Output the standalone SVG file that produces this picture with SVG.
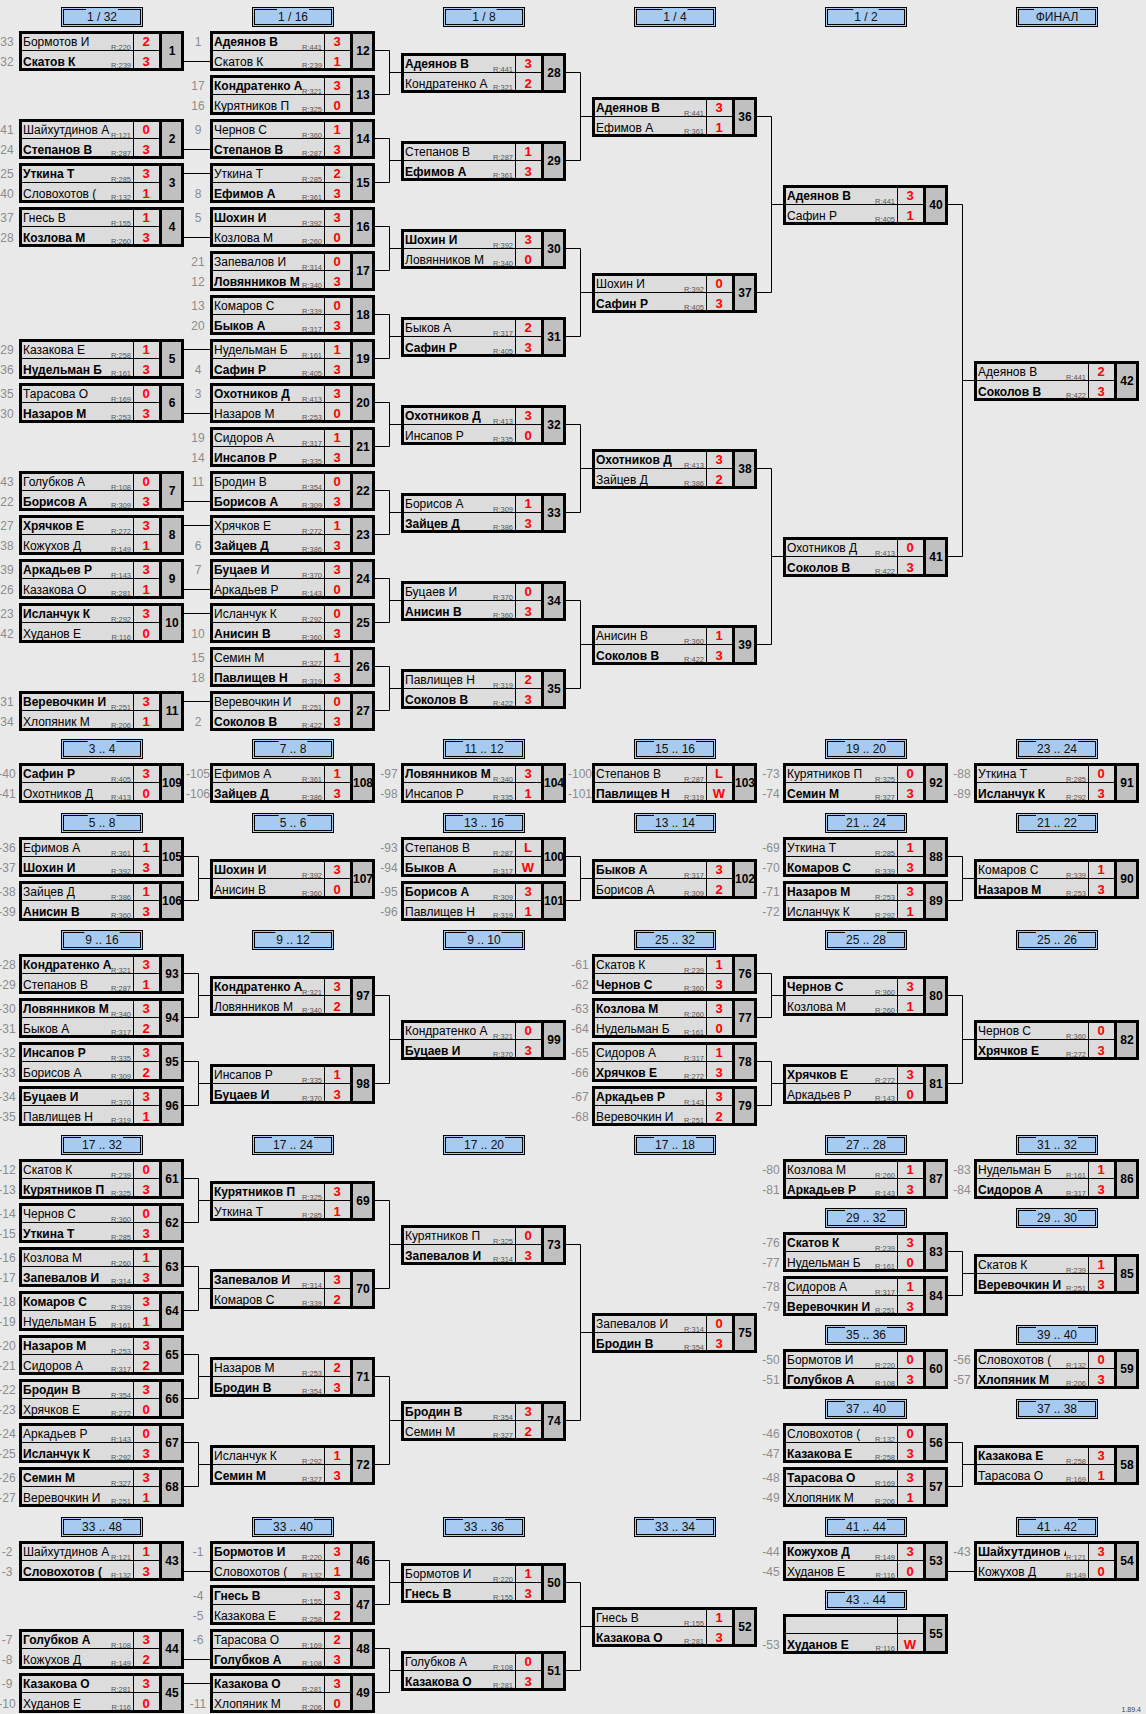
<svg xmlns="http://www.w3.org/2000/svg" xmlns:xlink="http://www.w3.org/1999/xlink" width="1146" height="1714" viewBox="0 0 1146 1714">
<style>
text{font-family:'Liberation Sans',Arial,sans-serif}
.n{font-size:12px;fill:#000}
.b{font-weight:bold}
.r{font-size:7.5px;fill:#555;text-anchor:end}
.s{font-size:13px;font-weight:bold;fill:#f00;text-anchor:middle}
.m{font-size:12px;font-weight:bold;fill:#000;text-anchor:middle}
.sd{font-size:12px;fill:#8c8c8c;text-anchor:middle}
.ht{font-size:12px;fill:#111;text-anchor:middle}
.ho{fill:#a6caf0;stroke:#000;stroke-width:1}
.hi{fill:none;stroke:#000;stroke-width:1}
.hg{fill:#a6caf0}
.c{fill:none;stroke:#000;stroke-width:1}
.v{font-size:7px;fill:#444;text-anchor:end}
</style>
<defs>
<g id="bx">
<rect x="0" y="0" width="141" height="40" fill="#dcdcdc"/>
<rect x="141" y="0" width="24" height="40" fill="#c0c0c0"/>
<path d="M0 19.5H141M114.5 0V40" stroke="#000" stroke-width="1" fill="none"/>
<rect x="1.5" y="1.5" width="162" height="37" fill="none" stroke="#000" stroke-width="3"/>
<path d="M141.5 0V40" stroke="#000" stroke-width="3"/>
</g>
<g id="hd">
<rect class="ho" x="42.5" y="-23.5" width="81" height="19"/>
<rect class="hi" x="44.5" y="-21.5" width="77" height="15"/>
</g>
</defs>
<rect x="0" y="0" width="1146" height="1714" fill="#e9e9e9"/>

<g id="headers">
<g transform="translate(19 31)"><use href="#hd"/><rect class="hg" x="67" y="-22.2" width="32" height="1.4"/><text class="ht" x="83" y="-10.5">1 / 32</text></g>
<g transform="translate(210 31)"><use href="#hd"/><rect class="hg" x="67" y="-22.2" width="32" height="1.4"/><text class="ht" x="83" y="-10.5">1 / 16</text></g>
<g transform="translate(401 31)"><use href="#hd"/><rect class="hg" x="70.3" y="-22.2" width="25.3" height="1.4"/><text class="ht" x="83" y="-10.5">1 / 8</text></g>
<g transform="translate(592 31)"><use href="#hd"/><rect class="hg" x="70.3" y="-22.2" width="25.3" height="1.4"/><text class="ht" x="83" y="-10.5">1 / 4</text></g>
<g transform="translate(783 31)"><use href="#hd"/><rect class="hg" x="70.3" y="-22.2" width="25.3" height="1.4"/><text class="ht" x="83" y="-10.5">1 / 2</text></g>
<g transform="translate(974 31)"><use href="#hd"/><rect class="hg" x="60" y="-22.2" width="46" height="1.4"/><text class="ht" x="83" y="-10.5">ФИНАЛ</text></g>

<g transform="translate(19 763)"><use href="#hd"/><rect class="hg" x="68.7" y="-22.2" width="28.7" height="1.4"/><text class="ht" x="83" y="-10.5">3 .. 4</text></g>
<g transform="translate(210 763)"><use href="#hd"/><rect class="hg" x="68.7" y="-22.2" width="28.7" height="1.4"/><text class="ht" x="83" y="-10.5">7 .. 8</text></g>
<g transform="translate(401 763)"><use href="#hd"/><rect class="hg" x="62" y="-22.2" width="42" height="1.4"/><text class="ht" x="83" y="-10.5">11 .. 12</text></g>
<g transform="translate(592 763)"><use href="#hd"/><rect class="hg" x="62" y="-22.2" width="42" height="1.4"/><text class="ht" x="83" y="-10.5">15 .. 16</text></g>
<g transform="translate(783 763)"><use href="#hd"/><rect class="hg" x="62" y="-22.2" width="42" height="1.4"/><text class="ht" x="83" y="-10.5">19 .. 20</text></g>
<g transform="translate(974 763)"><use href="#hd"/><rect class="hg" x="62" y="-22.2" width="42" height="1.4"/><text class="ht" x="83" y="-10.5">23 .. 24</text></g>

<g transform="translate(19 837)"><use href="#hd"/><rect class="hg" x="68.7" y="-22.2" width="28.7" height="1.4"/><text class="ht" x="83" y="-10.5">5 .. 8</text></g>
<g transform="translate(210 837)"><use href="#hd"/><rect class="hg" x="68.7" y="-22.2" width="28.7" height="1.4"/><text class="ht" x="83" y="-10.5">5 .. 6</text></g>
<g transform="translate(401 837)"><use href="#hd"/><rect class="hg" x="62" y="-22.2" width="42" height="1.4"/><text class="ht" x="83" y="-10.5">13 .. 16</text></g>
<g transform="translate(592 837)"><use href="#hd"/><rect class="hg" x="62" y="-22.2" width="42" height="1.4"/><text class="ht" x="83" y="-10.5">13 .. 14</text></g>
<g transform="translate(783 837)"><use href="#hd"/><rect class="hg" x="62" y="-22.2" width="42" height="1.4"/><text class="ht" x="83" y="-10.5">21 .. 24</text></g>
<g transform="translate(974 837)"><use href="#hd"/><rect class="hg" x="62" y="-22.2" width="42" height="1.4"/><text class="ht" x="83" y="-10.5">21 .. 22</text></g>

<g transform="translate(19 954)"><use href="#hd"/><rect class="hg" x="65.3" y="-22.2" width="35.3" height="1.4"/><text class="ht" x="83" y="-10.5">9 .. 16</text></g>
<g transform="translate(210 954)"><use href="#hd"/><rect class="hg" x="65.3" y="-22.2" width="35.3" height="1.4"/><text class="ht" x="83" y="-10.5">9 .. 12</text></g>
<g transform="translate(401 954)"><use href="#hd"/><rect class="hg" x="65.3" y="-22.2" width="35.3" height="1.4"/><text class="ht" x="83" y="-10.5">9 .. 10</text></g>
<g transform="translate(592 954)"><use href="#hd"/><rect class="hg" x="62" y="-22.2" width="42" height="1.4"/><text class="ht" x="83" y="-10.5">25 .. 32</text></g>
<g transform="translate(783 954)"><use href="#hd"/><rect class="hg" x="62" y="-22.2" width="42" height="1.4"/><text class="ht" x="83" y="-10.5">25 .. 28</text></g>
<g transform="translate(974 954)"><use href="#hd"/><rect class="hg" x="62" y="-22.2" width="42" height="1.4"/><text class="ht" x="83" y="-10.5">25 .. 26</text></g>

<g transform="translate(19 1159)"><use href="#hd"/><rect class="hg" x="62" y="-22.2" width="42" height="1.4"/><text class="ht" x="83" y="-10.5">17 .. 32</text></g>
<g transform="translate(210 1159)"><use href="#hd"/><rect class="hg" x="62" y="-22.2" width="42" height="1.4"/><text class="ht" x="83" y="-10.5">17 .. 24</text></g>
<g transform="translate(401 1159)"><use href="#hd"/><rect class="hg" x="62" y="-22.2" width="42" height="1.4"/><text class="ht" x="83" y="-10.5">17 .. 20</text></g>
<g transform="translate(592 1159)"><use href="#hd"/><rect class="hg" x="62" y="-22.2" width="42" height="1.4"/><text class="ht" x="83" y="-10.5">17 .. 18</text></g>
<g transform="translate(783 1159)"><use href="#hd"/><rect class="hg" x="62" y="-22.2" width="42" height="1.4"/><text class="ht" x="83" y="-10.5">27 .. 28</text></g>
<g transform="translate(974 1159)"><use href="#hd"/><rect class="hg" x="62" y="-22.2" width="42" height="1.4"/><text class="ht" x="83" y="-10.5">31 .. 32</text></g>
<g transform="translate(783 1232)"><use href="#hd"/><rect class="hg" x="62" y="-22.2" width="42" height="1.4"/><text class="ht" x="83" y="-10.5">29 .. 32</text></g>
<g transform="translate(974 1232)"><use href="#hd"/><rect class="hg" x="62" y="-22.2" width="42" height="1.4"/><text class="ht" x="83" y="-10.5">29 .. 30</text></g>
<g transform="translate(783 1349)"><use href="#hd"/><rect class="hg" x="62" y="-22.2" width="42" height="1.4"/><text class="ht" x="83" y="-10.5">35 .. 36</text></g>
<g transform="translate(974 1349)"><use href="#hd"/><rect class="hg" x="62" y="-22.2" width="42" height="1.4"/><text class="ht" x="83" y="-10.5">39 .. 40</text></g>
<g transform="translate(783 1423)"><use href="#hd"/><rect class="hg" x="62" y="-22.2" width="42" height="1.4"/><text class="ht" x="83" y="-10.5">37 .. 40</text></g>
<g transform="translate(974 1423)"><use href="#hd"/><rect class="hg" x="62" y="-22.2" width="42" height="1.4"/><text class="ht" x="83" y="-10.5">37 .. 38</text></g>

<g transform="translate(19 1541)"><use href="#hd"/><rect class="hg" x="62" y="-22.2" width="42" height="1.4"/><text class="ht" x="83" y="-10.5">33 .. 48</text></g>
<g transform="translate(210 1541)"><use href="#hd"/><rect class="hg" x="62" y="-22.2" width="42" height="1.4"/><text class="ht" x="83" y="-10.5">33 .. 40</text></g>
<g transform="translate(401 1541)"><use href="#hd"/><rect class="hg" x="62" y="-22.2" width="42" height="1.4"/><text class="ht" x="83" y="-10.5">33 .. 36</text></g>
<g transform="translate(592 1541)"><use href="#hd"/><rect class="hg" x="62" y="-22.2" width="42" height="1.4"/><text class="ht" x="83" y="-10.5">33 .. 34</text></g>
<g transform="translate(783 1541)"><use href="#hd"/><rect class="hg" x="62" y="-22.2" width="42" height="1.4"/><text class="ht" x="83" y="-10.5">41 .. 44</text></g>
<g transform="translate(974 1541)"><use href="#hd"/><rect class="hg" x="62" y="-22.2" width="42" height="1.4"/><text class="ht" x="83" y="-10.5">41 .. 42</text></g>
<g transform="translate(783 1614)"><use href="#hd"/><rect class="hg" x="62" y="-22.2" width="42" height="1.4"/><text class="ht" x="83" y="-10.5">43 .. 44</text></g>
</g>

<g id="connectors">
<path class="c" d="M184 61.5H210M184 149.5H210M184 173.5H210M184 237.5H210M184 349.5H210M184 413.5H210M184 501.5H210M184 525.5H210M184 589.5H210M184 613.5H210M184 701.5H210"/>
<path class="c" d="M375 50.5H389.5V94.5H375M389.5 72.5H401M375 138.5H389.5V182.5H375M389.5 160.5H401M375 226.5H389.5V270.5H375M389.5 248.5H401M375 314.5H389.5V358.5H375M389.5 336.5H401M375 402.5H389.5V446.5H375M389.5 424.5H401M375 490.5H389.5V534.5H375M389.5 512.5H401M375 578.5H389.5V622.5H375M389.5 600.5H401M375 666.5H389.5V710.5H375M389.5 688.5H401"/>
<path class="c" d="M566 72.5H580.5V160.5H566M580.5 116.5H592M566 248.5H580.5V336.5H566M580.5 292.5H592M566 424.5H580.5V512.5H566M580.5 468.5H592M566 600.5H580.5V688.5H566M580.5 644.5H592"/>
<path class="c" d="M757 116.5H771.5V292.5H757M771.5 204.5H783M757 468.5H771.5V644.5H757M771.5 556.5H783"/>
<path class="c" d="M948 204.5H962.5V556.5H948M962.5 380.5H974"/>
<path class="c" d="M184 856.5H198.5V900.5H184M198.5 878.5H210M566 856.5H580.5V900.5H566M580.5 878.5H592M948 856.5H962.5V900.5H948M962.5 878.5H974"/>
<path class="c" d="M184 973.5H198.5V1017.5H184M198.5 995.5H210M184 1061.5H198.5V1105.5H184M198.5 1083.5H210M375 995.5H389.5V1083.5H375M389.5 1039.5H401M757 973.5H771.5V1017.5H757M771.5 995.5H783M757 1061.5H771.5V1105.5H757M771.5 1083.5H783M948 995.5H962.5V1083.5H948M962.5 1039.5H974"/>
<path class="c" d="M184 1178.5H198.5V1222.5H184M198.5 1200.5H210M184 1266.5H198.5V1310.5H184M198.5 1288.5H210M184 1354.5H198.5V1398.5H184M198.5 1376.5H210M184 1442.5H198.5V1486.5H184M198.5 1464.5H210M375 1200.5H389.5V1288.5H375M389.5 1244.5H401M375 1376.5H389.5V1464.5H375M389.5 1420.5H401M566 1244.5H580.5V1420.5H566M580.5 1332.5H592M948 1251.5H962.5V1295.5H948M962.5 1273.5H974M948 1442.5H962.5V1486.5H948M962.5 1464.5H974"/>
<path class="c" d="M184 1571.5H210M184 1659.5H210M184 1683.5H210M948 1571.5H974M375 1560.5H389.5V1604.5H375M389.5 1582.5H401M375 1648.5H389.5V1692.5H375M389.5 1670.5H401M566 1582.5H580.5V1670.5H566M580.5 1626.5H592"/>
</g>

<g id="m1" transform="translate(19 31)"><use href="#bx"/><text class="sd" x="-12" y="15.3">33</text><text class="sd" x="-12" y="34.5">32</text><text class="n" x="4" y="15.3">Бормотов И</text><text class="n b" x="4" y="34.5">Скатов К</text><text class="r" x="112" y="18.5">R:220</text><text class="r" x="112" y="37">R:239</text><text class="s" x="127" y="15.3">2</text><text class="s" x="127" y="34.5">3</text><text class="m" x="153" y="24.3">1</text></g>
<g id="m2" transform="translate(19 119)"><use href="#bx"/><text class="sd" x="-12" y="15.3">41</text><text class="sd" x="-12" y="34.5">24</text><text class="n" x="4" y="15.3">Шайхутдинов А</text><text class="n b" x="4" y="34.5">Степанов В</text><text class="r" x="112" y="18.5">R:121</text><text class="r" x="112" y="37">R:287</text><text class="s" x="127" y="15.3">0</text><text class="s" x="127" y="34.5">3</text><text class="m" x="153" y="24.3">2</text></g>
<g id="m3" transform="translate(19 163)"><use href="#bx"/><text class="sd" x="-12" y="15.3">25</text><text class="sd" x="-12" y="34.5">40</text><text class="n b" x="4" y="15.3">Уткина Т</text><text class="n" x="4" y="34.5">Словохотов (</text><text class="r" x="112" y="18.5">R:285</text><text class="r" x="112" y="37">R:132</text><text class="s" x="127" y="15.3">3</text><text class="s" x="127" y="34.5">1</text><text class="m" x="153" y="24.3">3</text></g>
<g id="m4" transform="translate(19 207)"><use href="#bx"/><text class="sd" x="-12" y="15.3">37</text><text class="sd" x="-12" y="34.5">28</text><text class="n" x="4" y="15.3">Гнесь В</text><text class="n b" x="4" y="34.5">Козлова М</text><text class="r" x="112" y="18.5">R:155</text><text class="r" x="112" y="37">R:260</text><text class="s" x="127" y="15.3">1</text><text class="s" x="127" y="34.5">3</text><text class="m" x="153" y="24.3">4</text></g>
<g id="m5" transform="translate(19 339)"><use href="#bx"/><text class="sd" x="-12" y="15.3">29</text><text class="sd" x="-12" y="34.5">36</text><text class="n" x="4" y="15.3">Казакова Е</text><text class="n b" x="4" y="34.5">Нудельман Б</text><text class="r" x="112" y="18.5">R:258</text><text class="r" x="112" y="37">R:161</text><text class="s" x="127" y="15.3">1</text><text class="s" x="127" y="34.5">3</text><text class="m" x="153" y="24.3">5</text></g>
<g id="m6" transform="translate(19 383)"><use href="#bx"/><text class="sd" x="-12" y="15.3">35</text><text class="sd" x="-12" y="34.5">30</text><text class="n" x="4" y="15.3">Тарасова О</text><text class="n b" x="4" y="34.5">Назаров М</text><text class="r" x="112" y="18.5">R:169</text><text class="r" x="112" y="37">R:253</text><text class="s" x="127" y="15.3">0</text><text class="s" x="127" y="34.5">3</text><text class="m" x="153" y="24.3">6</text></g>
<g id="m7" transform="translate(19 471)"><use href="#bx"/><text class="sd" x="-12" y="15.3">43</text><text class="sd" x="-12" y="34.5">22</text><text class="n" x="4" y="15.3">Голубков А</text><text class="n b" x="4" y="34.5">Борисов А</text><text class="r" x="112" y="18.5">R:108</text><text class="r" x="112" y="37">R:309</text><text class="s" x="127" y="15.3">0</text><text class="s" x="127" y="34.5">3</text><text class="m" x="153" y="24.3">7</text></g>
<g id="m8" transform="translate(19 515)"><use href="#bx"/><text class="sd" x="-12" y="15.3">27</text><text class="sd" x="-12" y="34.5">38</text><text class="n b" x="4" y="15.3">Хрячков Е</text><text class="n" x="4" y="34.5">Кожухов Д</text><text class="r" x="112" y="18.5">R:272</text><text class="r" x="112" y="37">R:149</text><text class="s" x="127" y="15.3">3</text><text class="s" x="127" y="34.5">1</text><text class="m" x="153" y="24.3">8</text></g>
<g id="m9" transform="translate(19 559)"><use href="#bx"/><text class="sd" x="-12" y="15.3">39</text><text class="sd" x="-12" y="34.5">26</text><text class="n b" x="4" y="15.3">Аркадьев Р</text><text class="n" x="4" y="34.5">Казакова О</text><text class="r" x="112" y="18.5">R:143</text><text class="r" x="112" y="37">R:281</text><text class="s" x="127" y="15.3">3</text><text class="s" x="127" y="34.5">1</text><text class="m" x="153" y="24.3">9</text></g>
<g id="m10" transform="translate(19 603)"><use href="#bx"/><text class="sd" x="-12" y="15.3">23</text><text class="sd" x="-12" y="34.5">42</text><text class="n b" x="4" y="15.3">Исланчук К</text><text class="n" x="4" y="34.5">Худанов Е</text><text class="r" x="112" y="18.5">R:292</text><text class="r" x="112" y="37">R:116</text><text class="s" x="127" y="15.3">3</text><text class="s" x="127" y="34.5">0</text><text class="m" x="153" y="24.3">10</text></g>
<g id="m11" transform="translate(19 691)"><use href="#bx"/><text class="sd" x="-12" y="15.3">31</text><text class="sd" x="-12" y="34.5">34</text><text class="n b" x="4" y="15.3">Веревочкин И</text><text class="n" x="4" y="34.5">Хлопяник М</text><text class="r" x="112" y="18.5">R:251</text><text class="r" x="112" y="37">R:206</text><text class="s" x="127" y="15.3">3</text><text class="s" x="127" y="34.5">1</text><text class="m" x="153" y="24.3">11</text></g>

<g id="m12" transform="translate(210 31)"><use href="#bx"/><text class="sd" x="-12" y="15.3">1</text><text class="n b" x="4" y="15.3">Адеянов В</text><text class="n" x="4" y="34.5">Скатов К</text><text class="r" x="112" y="18.5">R:441</text><text class="r" x="112" y="37">R:239</text><text class="s" x="127" y="15.3">3</text><text class="s" x="127" y="34.5">1</text><text class="m" x="153" y="24.3">12</text></g>
<g id="m13" transform="translate(210 75)"><use href="#bx"/><text class="sd" x="-12" y="15.3">17</text><text class="sd" x="-12" y="34.5">16</text><text class="n b" x="4" y="15.3">Кондратенко А</text><text class="n" x="4" y="34.5">Курятников П</text><text class="r" x="112" y="18.5">R:321</text><text class="r" x="112" y="37">R:325</text><text class="s" x="127" y="15.3">3</text><text class="s" x="127" y="34.5">0</text><text class="m" x="153" y="24.3">13</text></g>
<g id="m14" transform="translate(210 119)"><use href="#bx"/><text class="sd" x="-12" y="15.3">9</text><text class="n" x="4" y="15.3">Чернов С</text><text class="n b" x="4" y="34.5">Степанов В</text><text class="r" x="112" y="18.5">R:360</text><text class="r" x="112" y="37">R:287</text><text class="s" x="127" y="15.3">1</text><text class="s" x="127" y="34.5">3</text><text class="m" x="153" y="24.3">14</text></g>
<g id="m15" transform="translate(210 163)"><use href="#bx"/><text class="sd" x="-12" y="34.5">8</text><text class="n" x="4" y="15.3">Уткина Т</text><text class="n b" x="4" y="34.5">Ефимов А</text><text class="r" x="112" y="18.5">R:285</text><text class="r" x="112" y="37">R:361</text><text class="s" x="127" y="15.3">2</text><text class="s" x="127" y="34.5">3</text><text class="m" x="153" y="24.3">15</text></g>
<g id="m16" transform="translate(210 207)"><use href="#bx"/><text class="sd" x="-12" y="15.3">5</text><text class="n b" x="4" y="15.3">Шохин И</text><text class="n" x="4" y="34.5">Козлова М</text><text class="r" x="112" y="18.5">R:392</text><text class="r" x="112" y="37">R:260</text><text class="s" x="127" y="15.3">3</text><text class="s" x="127" y="34.5">0</text><text class="m" x="153" y="24.3">16</text></g>
<g id="m17" transform="translate(210 251)"><use href="#bx"/><text class="sd" x="-12" y="15.3">21</text><text class="sd" x="-12" y="34.5">12</text><text class="n" x="4" y="15.3">Запевалов И</text><text class="n b" x="4" y="34.5">Ловянников М</text><text class="r" x="112" y="18.5">R:314</text><text class="r" x="112" y="37">R:340</text><text class="s" x="127" y="15.3">0</text><text class="s" x="127" y="34.5">3</text><text class="m" x="153" y="24.3">17</text></g>
<g id="m18" transform="translate(210 295)"><use href="#bx"/><text class="sd" x="-12" y="15.3">13</text><text class="sd" x="-12" y="34.5">20</text><text class="n" x="4" y="15.3">Комаров С</text><text class="n b" x="4" y="34.5">Быков А</text><text class="r" x="112" y="18.5">R:339</text><text class="r" x="112" y="37">R:317</text><text class="s" x="127" y="15.3">0</text><text class="s" x="127" y="34.5">3</text><text class="m" x="153" y="24.3">18</text></g>
<g id="m19" transform="translate(210 339)"><use href="#bx"/><text class="sd" x="-12" y="34.5">4</text><text class="n" x="4" y="15.3">Нудельман Б</text><text class="n b" x="4" y="34.5">Сафин Р</text><text class="r" x="112" y="18.5">R:161</text><text class="r" x="112" y="37">R:405</text><text class="s" x="127" y="15.3">1</text><text class="s" x="127" y="34.5">3</text><text class="m" x="153" y="24.3">19</text></g>
<g id="m20" transform="translate(210 383)"><use href="#bx"/><text class="sd" x="-12" y="15.3">3</text><text class="n b" x="4" y="15.3">Охотников Д</text><text class="n" x="4" y="34.5">Назаров М</text><text class="r" x="112" y="18.5">R:413</text><text class="r" x="112" y="37">R:253</text><text class="s" x="127" y="15.3">3</text><text class="s" x="127" y="34.5">0</text><text class="m" x="153" y="24.3">20</text></g>
<g id="m21" transform="translate(210 427)"><use href="#bx"/><text class="sd" x="-12" y="15.3">19</text><text class="sd" x="-12" y="34.5">14</text><text class="n" x="4" y="15.3">Сидоров А</text><text class="n b" x="4" y="34.5">Инсапов Р</text><text class="r" x="112" y="18.5">R:317</text><text class="r" x="112" y="37">R:335</text><text class="s" x="127" y="15.3">1</text><text class="s" x="127" y="34.5">3</text><text class="m" x="153" y="24.3">21</text></g>
<g id="m22" transform="translate(210 471)"><use href="#bx"/><text class="sd" x="-12" y="15.3">11</text><text class="n" x="4" y="15.3">Бродин В</text><text class="n b" x="4" y="34.5">Борисов А</text><text class="r" x="112" y="18.5">R:354</text><text class="r" x="112" y="37">R:309</text><text class="s" x="127" y="15.3">0</text><text class="s" x="127" y="34.5">3</text><text class="m" x="153" y="24.3">22</text></g>
<g id="m23" transform="translate(210 515)"><use href="#bx"/><text class="sd" x="-12" y="34.5">6</text><text class="n" x="4" y="15.3">Хрячков Е</text><text class="n b" x="4" y="34.5">Зайцев Д</text><text class="r" x="112" y="18.5">R:272</text><text class="r" x="112" y="37">R:386</text><text class="s" x="127" y="15.3">1</text><text class="s" x="127" y="34.5">3</text><text class="m" x="153" y="24.3">23</text></g>
<g id="m24" transform="translate(210 559)"><use href="#bx"/><text class="sd" x="-12" y="15.3">7</text><text class="n b" x="4" y="15.3">Буцаев И</text><text class="n" x="4" y="34.5">Аркадьев Р</text><text class="r" x="112" y="18.5">R:370</text><text class="r" x="112" y="37">R:143</text><text class="s" x="127" y="15.3">3</text><text class="s" x="127" y="34.5">0</text><text class="m" x="153" y="24.3">24</text></g>
<g id="m25" transform="translate(210 603)"><use href="#bx"/><text class="sd" x="-12" y="34.5">10</text><text class="n" x="4" y="15.3">Исланчук К</text><text class="n b" x="4" y="34.5">Анисин В</text><text class="r" x="112" y="18.5">R:292</text><text class="r" x="112" y="37">R:360</text><text class="s" x="127" y="15.3">0</text><text class="s" x="127" y="34.5">3</text><text class="m" x="153" y="24.3">25</text></g>
<g id="m26" transform="translate(210 647)"><use href="#bx"/><text class="sd" x="-12" y="15.3">15</text><text class="sd" x="-12" y="34.5">18</text><text class="n" x="4" y="15.3">Семин М</text><text class="n b" x="4" y="34.5">Павлищев Н</text><text class="r" x="112" y="18.5">R:327</text><text class="r" x="112" y="37">R:319</text><text class="s" x="127" y="15.3">1</text><text class="s" x="127" y="34.5">3</text><text class="m" x="153" y="24.3">26</text></g>
<g id="m27" transform="translate(210 691)"><use href="#bx"/><text class="sd" x="-12" y="34.5">2</text><text class="n" x="4" y="15.3">Веревочкин И</text><text class="n b" x="4" y="34.5">Соколов В</text><text class="r" x="112" y="18.5">R:251</text><text class="r" x="112" y="37">R:422</text><text class="s" x="127" y="15.3">0</text><text class="s" x="127" y="34.5">3</text><text class="m" x="153" y="24.3">27</text></g>

<g id="m28" transform="translate(401 53)"><use href="#bx"/><text class="n b" x="4" y="15.3">Адеянов В</text><text class="n" x="4" y="34.5">Кондратенко А</text><text class="r" x="112" y="18.5">R:441</text><text class="r" x="112" y="37">R:321</text><text class="s" x="127" y="15.3">3</text><text class="s" x="127" y="34.5">2</text><text class="m" x="153" y="24.3">28</text></g>
<g id="m29" transform="translate(401 141)"><use href="#bx"/><text class="n" x="4" y="15.3">Степанов В</text><text class="n b" x="4" y="34.5">Ефимов А</text><text class="r" x="112" y="18.5">R:287</text><text class="r" x="112" y="37">R:361</text><text class="s" x="127" y="15.3">1</text><text class="s" x="127" y="34.5">3</text><text class="m" x="153" y="24.3">29</text></g>
<g id="m30" transform="translate(401 229)"><use href="#bx"/><text class="n b" x="4" y="15.3">Шохин И</text><text class="n" x="4" y="34.5">Ловянников М</text><text class="r" x="112" y="18.5">R:392</text><text class="r" x="112" y="37">R:340</text><text class="s" x="127" y="15.3">3</text><text class="s" x="127" y="34.5">0</text><text class="m" x="153" y="24.3">30</text></g>
<g id="m31" transform="translate(401 317)"><use href="#bx"/><text class="n" x="4" y="15.3">Быков А</text><text class="n b" x="4" y="34.5">Сафин Р</text><text class="r" x="112" y="18.5">R:317</text><text class="r" x="112" y="37">R:405</text><text class="s" x="127" y="15.3">2</text><text class="s" x="127" y="34.5">3</text><text class="m" x="153" y="24.3">31</text></g>
<g id="m32" transform="translate(401 405)"><use href="#bx"/><text class="n b" x="4" y="15.3">Охотников Д</text><text class="n" x="4" y="34.5">Инсапов Р</text><text class="r" x="112" y="18.5">R:413</text><text class="r" x="112" y="37">R:335</text><text class="s" x="127" y="15.3">3</text><text class="s" x="127" y="34.5">0</text><text class="m" x="153" y="24.3">32</text></g>
<g id="m33" transform="translate(401 493)"><use href="#bx"/><text class="n" x="4" y="15.3">Борисов А</text><text class="n b" x="4" y="34.5">Зайцев Д</text><text class="r" x="112" y="18.5">R:309</text><text class="r" x="112" y="37">R:386</text><text class="s" x="127" y="15.3">1</text><text class="s" x="127" y="34.5">3</text><text class="m" x="153" y="24.3">33</text></g>
<g id="m34" transform="translate(401 581)"><use href="#bx"/><text class="n" x="4" y="15.3">Буцаев И</text><text class="n b" x="4" y="34.5">Анисин В</text><text class="r" x="112" y="18.5">R:370</text><text class="r" x="112" y="37">R:360</text><text class="s" x="127" y="15.3">0</text><text class="s" x="127" y="34.5">3</text><text class="m" x="153" y="24.3">34</text></g>
<g id="m35" transform="translate(401 669)"><use href="#bx"/><text class="n" x="4" y="15.3">Павлищев Н</text><text class="n b" x="4" y="34.5">Соколов В</text><text class="r" x="112" y="18.5">R:319</text><text class="r" x="112" y="37">R:422</text><text class="s" x="127" y="15.3">2</text><text class="s" x="127" y="34.5">3</text><text class="m" x="153" y="24.3">35</text></g>

<g id="m36" transform="translate(592 97)"><use href="#bx"/><text class="n b" x="4" y="15.3">Адеянов В</text><text class="n" x="4" y="34.5">Ефимов А</text><text class="r" x="112" y="18.5">R:441</text><text class="r" x="112" y="37">R:361</text><text class="s" x="127" y="15.3">3</text><text class="s" x="127" y="34.5">1</text><text class="m" x="153" y="24.3">36</text></g>
<g id="m37" transform="translate(592 273)"><use href="#bx"/><text class="n" x="4" y="15.3">Шохин И</text><text class="n b" x="4" y="34.5">Сафин Р</text><text class="r" x="112" y="18.5">R:392</text><text class="r" x="112" y="37">R:405</text><text class="s" x="127" y="15.3">0</text><text class="s" x="127" y="34.5">3</text><text class="m" x="153" y="24.3">37</text></g>
<g id="m38" transform="translate(592 449)"><use href="#bx"/><text class="n b" x="4" y="15.3">Охотников Д</text><text class="n" x="4" y="34.5">Зайцев Д</text><text class="r" x="112" y="18.5">R:413</text><text class="r" x="112" y="37">R:386</text><text class="s" x="127" y="15.3">3</text><text class="s" x="127" y="34.5">2</text><text class="m" x="153" y="24.3">38</text></g>
<g id="m39" transform="translate(592 625)"><use href="#bx"/><text class="n" x="4" y="15.3">Анисин В</text><text class="n b" x="4" y="34.5">Соколов В</text><text class="r" x="112" y="18.5">R:360</text><text class="r" x="112" y="37">R:422</text><text class="s" x="127" y="15.3">1</text><text class="s" x="127" y="34.5">3</text><text class="m" x="153" y="24.3">39</text></g>
<g id="m40" transform="translate(783 185)"><use href="#bx"/><text class="n b" x="4" y="15.3">Адеянов В</text><text class="n" x="4" y="34.5">Сафин Р</text><text class="r" x="112" y="18.5">R:441</text><text class="r" x="112" y="37">R:405</text><text class="s" x="127" y="15.3">3</text><text class="s" x="127" y="34.5">1</text><text class="m" x="153" y="24.3">40</text></g>
<g id="m41" transform="translate(783 537)"><use href="#bx"/><text class="n" x="4" y="15.3">Охотников Д</text><text class="n b" x="4" y="34.5">Соколов В</text><text class="r" x="112" y="18.5">R:413</text><text class="r" x="112" y="37">R:422</text><text class="s" x="127" y="15.3">0</text><text class="s" x="127" y="34.5">3</text><text class="m" x="153" y="24.3">41</text></g>
<g id="m42" transform="translate(974 361)"><use href="#bx"/><text class="n" x="4" y="15.3">Адеянов В</text><text class="n b" x="4" y="34.5">Соколов В</text><text class="r" x="112" y="18.5">R:441</text><text class="r" x="112" y="37">R:422</text><text class="s" x="127" y="15.3">2</text><text class="s" x="127" y="34.5">3</text><text class="m" x="153" y="24.3">42</text></g>

<g id="m109" transform="translate(19 763)"><use href="#bx"/><text class="sd" x="-12" y="15.3">-40</text><text class="sd" x="-12" y="34.5">-41</text><text class="n b" x="4" y="15.3">Сафин Р</text><text class="n" x="4" y="34.5">Охотников Д</text><text class="r" x="112" y="18.5">R:405</text><text class="r" x="112" y="37">R:413</text><text class="s" x="127" y="15.3">3</text><text class="s" x="127" y="34.5">0</text><text class="m" x="153" y="24.3">109</text></g>
<g id="m108" transform="translate(210 763)"><use href="#bx"/><text class="sd" x="-12" y="15.3">-105</text><text class="sd" x="-12" y="34.5">-106</text><text class="n" x="4" y="15.3">Ефимов А</text><text class="n b" x="4" y="34.5">Зайцев Д</text><text class="r" x="112" y="18.5">R:361</text><text class="r" x="112" y="37">R:386</text><text class="s" x="127" y="15.3">1</text><text class="s" x="127" y="34.5">3</text><text class="m" x="153" y="24.3">108</text></g>
<g id="m104" transform="translate(401 763)"><use href="#bx"/><text class="sd" x="-12" y="15.3">-97</text><text class="sd" x="-12" y="34.5">-98</text><text class="n b" x="4" y="15.3">Ловянников М</text><text class="n" x="4" y="34.5">Инсапов Р</text><text class="r" x="112" y="18.5">R:340</text><text class="r" x="112" y="37">R:335</text><text class="s" x="127" y="15.3">3</text><text class="s" x="127" y="34.5">1</text><text class="m" x="153" y="24.3">104</text></g>
<g id="m103" transform="translate(592 763)"><use href="#bx"/><text class="sd" x="-12" y="15.3">-100</text><text class="sd" x="-12" y="34.5">-101</text><text class="n" x="4" y="15.3">Степанов В</text><text class="n b" x="4" y="34.5">Павлищев Н</text><text class="r" x="112" y="18.5">R:287</text><text class="r" x="112" y="37">R:319</text><text class="s" x="127" y="15.3">L</text><text class="s" x="127" y="34.5">W</text><text class="m" x="153" y="24.3">103</text></g>
<g id="m92" transform="translate(783 763)"><use href="#bx"/><text class="sd" x="-12" y="15.3">-73</text><text class="sd" x="-12" y="34.5">-74</text><text class="n" x="4" y="15.3">Курятников П</text><text class="n b" x="4" y="34.5">Семин М</text><text class="r" x="112" y="18.5">R:325</text><text class="r" x="112" y="37">R:327</text><text class="s" x="127" y="15.3">0</text><text class="s" x="127" y="34.5">3</text><text class="m" x="153" y="24.3">92</text></g>
<g id="m91" transform="translate(974 763)"><use href="#bx"/><text class="sd" x="-12" y="15.3">-88</text><text class="sd" x="-12" y="34.5">-89</text><text class="n" x="4" y="15.3">Уткина Т</text><text class="n b" x="4" y="34.5">Исланчук К</text><text class="r" x="112" y="18.5">R:285</text><text class="r" x="112" y="37">R:292</text><text class="s" x="127" y="15.3">0</text><text class="s" x="127" y="34.5">3</text><text class="m" x="153" y="24.3">91</text></g>

<g id="m105" transform="translate(19 837)"><use href="#bx"/><text class="sd" x="-12" y="15.3">-36</text><text class="sd" x="-12" y="34.5">-37</text><text class="n" x="4" y="15.3">Ефимов А</text><text class="n b" x="4" y="34.5">Шохин И</text><text class="r" x="112" y="18.5">R:361</text><text class="r" x="112" y="37">R:392</text><text class="s" x="127" y="15.3">1</text><text class="s" x="127" y="34.5">3</text><text class="m" x="153" y="24.3">105</text></g>
<g id="m106" transform="translate(19 881)"><use href="#bx"/><text class="sd" x="-12" y="15.3">-38</text><text class="sd" x="-12" y="34.5">-39</text><text class="n" x="4" y="15.3">Зайцев Д</text><text class="n b" x="4" y="34.5">Анисин В</text><text class="r" x="112" y="18.5">R:386</text><text class="r" x="112" y="37">R:360</text><text class="s" x="127" y="15.3">1</text><text class="s" x="127" y="34.5">3</text><text class="m" x="153" y="24.3">106</text></g>
<g id="m107" transform="translate(210 859)"><use href="#bx"/><text class="n b" x="4" y="15.3">Шохин И</text><text class="n" x="4" y="34.5">Анисин В</text><text class="r" x="112" y="18.5">R:392</text><text class="r" x="112" y="37">R:360</text><text class="s" x="127" y="15.3">3</text><text class="s" x="127" y="34.5">0</text><text class="m" x="153" y="24.3">107</text></g>
<g id="m100" transform="translate(401 837)"><use href="#bx"/><text class="sd" x="-12" y="15.3">-93</text><text class="sd" x="-12" y="34.5">-94</text><text class="n" x="4" y="15.3">Степанов В</text><text class="n b" x="4" y="34.5">Быков А</text><text class="r" x="112" y="18.5">R:287</text><text class="r" x="112" y="37">R:317</text><text class="s" x="127" y="15.3">L</text><text class="s" x="127" y="34.5">W</text><text class="m" x="153" y="24.3">100</text></g>
<g id="m101" transform="translate(401 881)"><use href="#bx"/><text class="sd" x="-12" y="15.3">-95</text><text class="sd" x="-12" y="34.5">-96</text><text class="n b" x="4" y="15.3">Борисов А</text><text class="n" x="4" y="34.5">Павлищев Н</text><text class="r" x="112" y="18.5">R:309</text><text class="r" x="112" y="37">R:319</text><text class="s" x="127" y="15.3">3</text><text class="s" x="127" y="34.5">1</text><text class="m" x="153" y="24.3">101</text></g>
<g id="m102" transform="translate(592 859)"><use href="#bx"/><text class="n b" x="4" y="15.3">Быков А</text><text class="n" x="4" y="34.5">Борисов А</text><text class="r" x="112" y="18.5">R:317</text><text class="r" x="112" y="37">R:309</text><text class="s" x="127" y="15.3">3</text><text class="s" x="127" y="34.5">2</text><text class="m" x="153" y="24.3">102</text></g>
<g id="m88" transform="translate(783 837)"><use href="#bx"/><text class="sd" x="-12" y="15.3">-69</text><text class="sd" x="-12" y="34.5">-70</text><text class="n" x="4" y="15.3">Уткина Т</text><text class="n b" x="4" y="34.5">Комаров С</text><text class="r" x="112" y="18.5">R:285</text><text class="r" x="112" y="37">R:339</text><text class="s" x="127" y="15.3">1</text><text class="s" x="127" y="34.5">3</text><text class="m" x="153" y="24.3">88</text></g>
<g id="m89" transform="translate(783 881)"><use href="#bx"/><text class="sd" x="-12" y="15.3">-71</text><text class="sd" x="-12" y="34.5">-72</text><text class="n b" x="4" y="15.3">Назаров М</text><text class="n" x="4" y="34.5">Исланчук К</text><text class="r" x="112" y="18.5">R:253</text><text class="r" x="112" y="37">R:292</text><text class="s" x="127" y="15.3">3</text><text class="s" x="127" y="34.5">1</text><text class="m" x="153" y="24.3">89</text></g>
<g id="m90" transform="translate(974 859)"><use href="#bx"/><text class="n" x="4" y="15.3">Комаров С</text><text class="n b" x="4" y="34.5">Назаров М</text><text class="r" x="112" y="18.5">R:339</text><text class="r" x="112" y="37">R:253</text><text class="s" x="127" y="15.3">1</text><text class="s" x="127" y="34.5">3</text><text class="m" x="153" y="24.3">90</text></g>

<g id="m93" transform="translate(19 954)"><use href="#bx"/><text class="sd" x="-12" y="15.3">-28</text><text class="sd" x="-12" y="34.5">-29</text><text class="n b" x="4" y="15.3">Кондратенко А</text><text class="n" x="4" y="34.5">Степанов В</text><text class="r" x="112" y="18.5">R:321</text><text class="r" x="112" y="37">R:287</text><text class="s" x="127" y="15.3">3</text><text class="s" x="127" y="34.5">1</text><text class="m" x="153" y="24.3">93</text></g>
<g id="m94" transform="translate(19 998)"><use href="#bx"/><text class="sd" x="-12" y="15.3">-30</text><text class="sd" x="-12" y="34.5">-31</text><text class="n b" x="4" y="15.3">Ловянников М</text><text class="n" x="4" y="34.5">Быков А</text><text class="r" x="112" y="18.5">R:340</text><text class="r" x="112" y="37">R:317</text><text class="s" x="127" y="15.3">3</text><text class="s" x="127" y="34.5">2</text><text class="m" x="153" y="24.3">94</text></g>
<g id="m95" transform="translate(19 1042)"><use href="#bx"/><text class="sd" x="-12" y="15.3">-32</text><text class="sd" x="-12" y="34.5">-33</text><text class="n b" x="4" y="15.3">Инсапов Р</text><text class="n" x="4" y="34.5">Борисов А</text><text class="r" x="112" y="18.5">R:335</text><text class="r" x="112" y="37">R:309</text><text class="s" x="127" y="15.3">3</text><text class="s" x="127" y="34.5">2</text><text class="m" x="153" y="24.3">95</text></g>
<g id="m96" transform="translate(19 1086)"><use href="#bx"/><text class="sd" x="-12" y="15.3">-34</text><text class="sd" x="-12" y="34.5">-35</text><text class="n b" x="4" y="15.3">Буцаев И</text><text class="n" x="4" y="34.5">Павлищев Н</text><text class="r" x="112" y="18.5">R:370</text><text class="r" x="112" y="37">R:319</text><text class="s" x="127" y="15.3">3</text><text class="s" x="127" y="34.5">1</text><text class="m" x="153" y="24.3">96</text></g>
<g id="m97" transform="translate(210 976)"><use href="#bx"/><text class="n b" x="4" y="15.3">Кондратенко А</text><text class="n" x="4" y="34.5">Ловянников М</text><text class="r" x="112" y="18.5">R:321</text><text class="r" x="112" y="37">R:340</text><text class="s" x="127" y="15.3">3</text><text class="s" x="127" y="34.5">2</text><text class="m" x="153" y="24.3">97</text></g>
<g id="m98" transform="translate(210 1064)"><use href="#bx"/><text class="n" x="4" y="15.3">Инсапов Р</text><text class="n b" x="4" y="34.5">Буцаев И</text><text class="r" x="112" y="18.5">R:335</text><text class="r" x="112" y="37">R:370</text><text class="s" x="127" y="15.3">1</text><text class="s" x="127" y="34.5">3</text><text class="m" x="153" y="24.3">98</text></g>
<g id="m99" transform="translate(401 1020)"><use href="#bx"/><text class="n" x="4" y="15.3">Кондратенко А</text><text class="n b" x="4" y="34.5">Буцаев И</text><text class="r" x="112" y="18.5">R:321</text><text class="r" x="112" y="37">R:370</text><text class="s" x="127" y="15.3">0</text><text class="s" x="127" y="34.5">3</text><text class="m" x="153" y="24.3">99</text></g>
<g id="m76" transform="translate(592 954)"><use href="#bx"/><text class="sd" x="-12" y="15.3">-61</text><text class="sd" x="-12" y="34.5">-62</text><text class="n" x="4" y="15.3">Скатов К</text><text class="n b" x="4" y="34.5">Чернов С</text><text class="r" x="112" y="18.5">R:239</text><text class="r" x="112" y="37">R:360</text><text class="s" x="127" y="15.3">1</text><text class="s" x="127" y="34.5">3</text><text class="m" x="153" y="24.3">76</text></g>
<g id="m77" transform="translate(592 998)"><use href="#bx"/><text class="sd" x="-12" y="15.3">-63</text><text class="sd" x="-12" y="34.5">-64</text><text class="n b" x="4" y="15.3">Козлова М</text><text class="n" x="4" y="34.5">Нудельман Б</text><text class="r" x="112" y="18.5">R:260</text><text class="r" x="112" y="37">R:161</text><text class="s" x="127" y="15.3">3</text><text class="s" x="127" y="34.5">0</text><text class="m" x="153" y="24.3">77</text></g>
<g id="m78" transform="translate(592 1042)"><use href="#bx"/><text class="sd" x="-12" y="15.3">-65</text><text class="sd" x="-12" y="34.5">-66</text><text class="n" x="4" y="15.3">Сидоров А</text><text class="n b" x="4" y="34.5">Хрячков Е</text><text class="r" x="112" y="18.5">R:317</text><text class="r" x="112" y="37">R:272</text><text class="s" x="127" y="15.3">1</text><text class="s" x="127" y="34.5">3</text><text class="m" x="153" y="24.3">78</text></g>
<g id="m79" transform="translate(592 1086)"><use href="#bx"/><text class="sd" x="-12" y="15.3">-67</text><text class="sd" x="-12" y="34.5">-68</text><text class="n b" x="4" y="15.3">Аркадьев Р</text><text class="n" x="4" y="34.5">Веревочкин И</text><text class="r" x="112" y="18.5">R:143</text><text class="r" x="112" y="37">R:251</text><text class="s" x="127" y="15.3">3</text><text class="s" x="127" y="34.5">2</text><text class="m" x="153" y="24.3">79</text></g>
<g id="m80" transform="translate(783 976)"><use href="#bx"/><text class="n b" x="4" y="15.3">Чернов С</text><text class="n" x="4" y="34.5">Козлова М</text><text class="r" x="112" y="18.5">R:360</text><text class="r" x="112" y="37">R:260</text><text class="s" x="127" y="15.3">3</text><text class="s" x="127" y="34.5">1</text><text class="m" x="153" y="24.3">80</text></g>
<g id="m81" transform="translate(783 1064)"><use href="#bx"/><text class="n b" x="4" y="15.3">Хрячков Е</text><text class="n" x="4" y="34.5">Аркадьев Р</text><text class="r" x="112" y="18.5">R:272</text><text class="r" x="112" y="37">R:143</text><text class="s" x="127" y="15.3">3</text><text class="s" x="127" y="34.5">0</text><text class="m" x="153" y="24.3">81</text></g>
<g id="m82" transform="translate(974 1020)"><use href="#bx"/><text class="n" x="4" y="15.3">Чернов С</text><text class="n b" x="4" y="34.5">Хрячков Е</text><text class="r" x="112" y="18.5">R:360</text><text class="r" x="112" y="37">R:272</text><text class="s" x="127" y="15.3">0</text><text class="s" x="127" y="34.5">3</text><text class="m" x="153" y="24.3">82</text></g>

<g id="m61" transform="translate(19 1159)"><use href="#bx"/><text class="sd" x="-12" y="15.3">-12</text><text class="sd" x="-12" y="34.5">-13</text><text class="n" x="4" y="15.3">Скатов К</text><text class="n b" x="4" y="34.5">Курятников П</text><text class="r" x="112" y="18.5">R:239</text><text class="r" x="112" y="37">R:325</text><text class="s" x="127" y="15.3">0</text><text class="s" x="127" y="34.5">3</text><text class="m" x="153" y="24.3">61</text></g>
<g id="m62" transform="translate(19 1203)"><use href="#bx"/><text class="sd" x="-12" y="15.3">-14</text><text class="sd" x="-12" y="34.5">-15</text><text class="n" x="4" y="15.3">Чернов С</text><text class="n b" x="4" y="34.5">Уткина Т</text><text class="r" x="112" y="18.5">R:360</text><text class="r" x="112" y="37">R:285</text><text class="s" x="127" y="15.3">0</text><text class="s" x="127" y="34.5">3</text><text class="m" x="153" y="24.3">62</text></g>
<g id="m63" transform="translate(19 1247)"><use href="#bx"/><text class="sd" x="-12" y="15.3">-16</text><text class="sd" x="-12" y="34.5">-17</text><text class="n" x="4" y="15.3">Козлова М</text><text class="n b" x="4" y="34.5">Запевалов И</text><text class="r" x="112" y="18.5">R:260</text><text class="r" x="112" y="37">R:314</text><text class="s" x="127" y="15.3">1</text><text class="s" x="127" y="34.5">3</text><text class="m" x="153" y="24.3">63</text></g>
<g id="m64" transform="translate(19 1291)"><use href="#bx"/><text class="sd" x="-12" y="15.3">-18</text><text class="sd" x="-12" y="34.5">-19</text><text class="n b" x="4" y="15.3">Комаров С</text><text class="n" x="4" y="34.5">Нудельман Б</text><text class="r" x="112" y="18.5">R:339</text><text class="r" x="112" y="37">R:161</text><text class="s" x="127" y="15.3">3</text><text class="s" x="127" y="34.5">1</text><text class="m" x="153" y="24.3">64</text></g>
<g id="m65" transform="translate(19 1335)"><use href="#bx"/><text class="sd" x="-12" y="15.3">-20</text><text class="sd" x="-12" y="34.5">-21</text><text class="n b" x="4" y="15.3">Назаров М</text><text class="n" x="4" y="34.5">Сидоров А</text><text class="r" x="112" y="18.5">R:253</text><text class="r" x="112" y="37">R:317</text><text class="s" x="127" y="15.3">3</text><text class="s" x="127" y="34.5">2</text><text class="m" x="153" y="24.3">65</text></g>
<g id="m66" transform="translate(19 1379)"><use href="#bx"/><text class="sd" x="-12" y="15.3">-22</text><text class="sd" x="-12" y="34.5">-23</text><text class="n b" x="4" y="15.3">Бродин В</text><text class="n" x="4" y="34.5">Хрячков Е</text><text class="r" x="112" y="18.5">R:354</text><text class="r" x="112" y="37">R:272</text><text class="s" x="127" y="15.3">3</text><text class="s" x="127" y="34.5">0</text><text class="m" x="153" y="24.3">66</text></g>
<g id="m67" transform="translate(19 1423)"><use href="#bx"/><text class="sd" x="-12" y="15.3">-24</text><text class="sd" x="-12" y="34.5">-25</text><text class="n" x="4" y="15.3">Аркадьев Р</text><text class="n b" x="4" y="34.5">Исланчук К</text><text class="r" x="112" y="18.5">R:143</text><text class="r" x="112" y="37">R:292</text><text class="s" x="127" y="15.3">0</text><text class="s" x="127" y="34.5">3</text><text class="m" x="153" y="24.3">67</text></g>
<g id="m68" transform="translate(19 1467)"><use href="#bx"/><text class="sd" x="-12" y="15.3">-26</text><text class="sd" x="-12" y="34.5">-27</text><text class="n b" x="4" y="15.3">Семин М</text><text class="n" x="4" y="34.5">Веревочкин И</text><text class="r" x="112" y="18.5">R:327</text><text class="r" x="112" y="37">R:251</text><text class="s" x="127" y="15.3">3</text><text class="s" x="127" y="34.5">1</text><text class="m" x="153" y="24.3">68</text></g>
<g id="m69" transform="translate(210 1181)"><use href="#bx"/><text class="n b" x="4" y="15.3">Курятников П</text><text class="n" x="4" y="34.5">Уткина Т</text><text class="r" x="112" y="18.5">R:325</text><text class="r" x="112" y="37">R:285</text><text class="s" x="127" y="15.3">3</text><text class="s" x="127" y="34.5">1</text><text class="m" x="153" y="24.3">69</text></g>
<g id="m70" transform="translate(210 1269)"><use href="#bx"/><text class="n b" x="4" y="15.3">Запевалов И</text><text class="n" x="4" y="34.5">Комаров С</text><text class="r" x="112" y="18.5">R:314</text><text class="r" x="112" y="37">R:339</text><text class="s" x="127" y="15.3">3</text><text class="s" x="127" y="34.5">2</text><text class="m" x="153" y="24.3">70</text></g>
<g id="m71" transform="translate(210 1357)"><use href="#bx"/><text class="n" x="4" y="15.3">Назаров М</text><text class="n b" x="4" y="34.5">Бродин В</text><text class="r" x="112" y="18.5">R:253</text><text class="r" x="112" y="37">R:354</text><text class="s" x="127" y="15.3">2</text><text class="s" x="127" y="34.5">3</text><text class="m" x="153" y="24.3">71</text></g>
<g id="m72" transform="translate(210 1445)"><use href="#bx"/><text class="n" x="4" y="15.3">Исланчук К</text><text class="n b" x="4" y="34.5">Семин М</text><text class="r" x="112" y="18.5">R:292</text><text class="r" x="112" y="37">R:327</text><text class="s" x="127" y="15.3">1</text><text class="s" x="127" y="34.5">3</text><text class="m" x="153" y="24.3">72</text></g>
<g id="m73" transform="translate(401 1225)"><use href="#bx"/><text class="n" x="4" y="15.3">Курятников П</text><text class="n b" x="4" y="34.5">Запевалов И</text><text class="r" x="112" y="18.5">R:325</text><text class="r" x="112" y="37">R:314</text><text class="s" x="127" y="15.3">0</text><text class="s" x="127" y="34.5">3</text><text class="m" x="153" y="24.3">73</text></g>
<g id="m74" transform="translate(401 1401)"><use href="#bx"/><text class="n b" x="4" y="15.3">Бродин В</text><text class="n" x="4" y="34.5">Семин М</text><text class="r" x="112" y="18.5">R:354</text><text class="r" x="112" y="37">R:327</text><text class="s" x="127" y="15.3">3</text><text class="s" x="127" y="34.5">2</text><text class="m" x="153" y="24.3">74</text></g>
<g id="m75" transform="translate(592 1313)"><use href="#bx"/><text class="n" x="4" y="15.3">Запевалов И</text><text class="n b" x="4" y="34.5">Бродин В</text><text class="r" x="112" y="18.5">R:314</text><text class="r" x="112" y="37">R:354</text><text class="s" x="127" y="15.3">0</text><text class="s" x="127" y="34.5">3</text><text class="m" x="153" y="24.3">75</text></g>
<g id="m87" transform="translate(783 1159)"><use href="#bx"/><text class="sd" x="-12" y="15.3">-80</text><text class="sd" x="-12" y="34.5">-81</text><text class="n" x="4" y="15.3">Козлова М</text><text class="n b" x="4" y="34.5">Аркадьев Р</text><text class="r" x="112" y="18.5">R:260</text><text class="r" x="112" y="37">R:143</text><text class="s" x="127" y="15.3">1</text><text class="s" x="127" y="34.5">3</text><text class="m" x="153" y="24.3">87</text></g>
<g id="m86" transform="translate(974 1159)"><use href="#bx"/><text class="sd" x="-12" y="15.3">-83</text><text class="sd" x="-12" y="34.5">-84</text><text class="n" x="4" y="15.3">Нудельман Б</text><text class="n b" x="4" y="34.5">Сидоров А</text><text class="r" x="112" y="18.5">R:161</text><text class="r" x="112" y="37">R:317</text><text class="s" x="127" y="15.3">1</text><text class="s" x="127" y="34.5">3</text><text class="m" x="153" y="24.3">86</text></g>
<g id="m83" transform="translate(783 1232)"><use href="#bx"/><text class="sd" x="-12" y="15.3">-76</text><text class="sd" x="-12" y="34.5">-77</text><text class="n b" x="4" y="15.3">Скатов К</text><text class="n" x="4" y="34.5">Нудельман Б</text><text class="r" x="112" y="18.5">R:239</text><text class="r" x="112" y="37">R:161</text><text class="s" x="127" y="15.3">3</text><text class="s" x="127" y="34.5">0</text><text class="m" x="153" y="24.3">83</text></g>
<g id="m84" transform="translate(783 1276)"><use href="#bx"/><text class="sd" x="-12" y="15.3">-78</text><text class="sd" x="-12" y="34.5">-79</text><text class="n" x="4" y="15.3">Сидоров А</text><text class="n b" x="4" y="34.5">Веревочкин И</text><text class="r" x="112" y="18.5">R:317</text><text class="r" x="112" y="37">R:251</text><text class="s" x="127" y="15.3">1</text><text class="s" x="127" y="34.5">3</text><text class="m" x="153" y="24.3">84</text></g>
<g id="m85" transform="translate(974 1254)"><use href="#bx"/><text class="n" x="4" y="15.3">Скатов К</text><text class="n b" x="4" y="34.5">Веревочкин И</text><text class="r" x="112" y="18.5">R:239</text><text class="r" x="112" y="37">R:251</text><text class="s" x="127" y="15.3">1</text><text class="s" x="127" y="34.5">3</text><text class="m" x="153" y="24.3">85</text></g>
<g id="m60" transform="translate(783 1349)"><use href="#bx"/><text class="sd" x="-12" y="15.3">-50</text><text class="sd" x="-12" y="34.5">-51</text><text class="n" x="4" y="15.3">Бормотов И</text><text class="n b" x="4" y="34.5">Голубков А</text><text class="r" x="112" y="18.5">R:220</text><text class="r" x="112" y="37">R:108</text><text class="s" x="127" y="15.3">0</text><text class="s" x="127" y="34.5">3</text><text class="m" x="153" y="24.3">60</text></g>
<g id="m59" transform="translate(974 1349)"><use href="#bx"/><text class="sd" x="-12" y="15.3">-56</text><text class="sd" x="-12" y="34.5">-57</text><text class="n" x="4" y="15.3">Словохотов (</text><text class="n b" x="4" y="34.5">Хлопяник М</text><text class="r" x="112" y="18.5">R:132</text><text class="r" x="112" y="37">R:206</text><text class="s" x="127" y="15.3">0</text><text class="s" x="127" y="34.5">3</text><text class="m" x="153" y="24.3">59</text></g>
<g id="m56" transform="translate(783 1423)"><use href="#bx"/><text class="sd" x="-12" y="15.3">-46</text><text class="sd" x="-12" y="34.5">-47</text><text class="n" x="4" y="15.3">Словохотов (</text><text class="n b" x="4" y="34.5">Казакова Е</text><text class="r" x="112" y="18.5">R:132</text><text class="r" x="112" y="37">R:258</text><text class="s" x="127" y="15.3">0</text><text class="s" x="127" y="34.5">3</text><text class="m" x="153" y="24.3">56</text></g>
<g id="m57" transform="translate(783 1467)"><use href="#bx"/><text class="sd" x="-12" y="15.3">-48</text><text class="sd" x="-12" y="34.5">-49</text><text class="n b" x="4" y="15.3">Тарасова О</text><text class="n" x="4" y="34.5">Хлопяник М</text><text class="r" x="112" y="18.5">R:169</text><text class="r" x="112" y="37">R:206</text><text class="s" x="127" y="15.3">3</text><text class="s" x="127" y="34.5">1</text><text class="m" x="153" y="24.3">57</text></g>
<g id="m58" transform="translate(974 1445)"><use href="#bx"/><text class="n b" x="4" y="15.3">Казакова Е</text><text class="n" x="4" y="34.5">Тарасова О</text><text class="r" x="112" y="18.5">R:258</text><text class="r" x="112" y="37">R:169</text><text class="s" x="127" y="15.3">3</text><text class="s" x="127" y="34.5">1</text><text class="m" x="153" y="24.3">58</text></g>

<g id="m43" transform="translate(19 1541)"><use href="#bx"/><text class="sd" x="-12" y="15.3">-2</text><text class="sd" x="-12" y="34.5">-3</text><text class="n" x="4" y="15.3">Шайхутдинов А</text><text class="n b" x="4" y="34.5">Словохотов (</text><text class="r" x="112" y="18.5">R:121</text><text class="r" x="112" y="37">R:132</text><text class="s" x="127" y="15.3">1</text><text class="s" x="127" y="34.5">3</text><text class="m" x="153" y="24.3">43</text></g>
<g id="m44" transform="translate(19 1629)"><use href="#bx"/><text class="sd" x="-12" y="15.3">-7</text><text class="sd" x="-12" y="34.5">-8</text><text class="n b" x="4" y="15.3">Голубков А</text><text class="n" x="4" y="34.5">Кожухов Д</text><text class="r" x="112" y="18.5">R:108</text><text class="r" x="112" y="37">R:149</text><text class="s" x="127" y="15.3">3</text><text class="s" x="127" y="34.5">2</text><text class="m" x="153" y="24.3">44</text></g>
<g id="m45" transform="translate(19 1673)"><use href="#bx"/><text class="sd" x="-12" y="15.3">-9</text><text class="sd" x="-12" y="34.5">-10</text><text class="n b" x="4" y="15.3">Казакова О</text><text class="n" x="4" y="34.5">Худанов Е</text><text class="r" x="112" y="18.5">R:281</text><text class="r" x="112" y="37">R:116</text><text class="s" x="127" y="15.3">3</text><text class="s" x="127" y="34.5">0</text><text class="m" x="153" y="24.3">45</text></g>
<g id="m46" transform="translate(210 1541)"><use href="#bx"/><text class="sd" x="-12" y="15.3">-1</text><text class="n b" x="4" y="15.3">Бормотов И</text><text class="n" x="4" y="34.5">Словохотов (</text><text class="r" x="112" y="18.5">R:220</text><text class="r" x="112" y="37">R:132</text><text class="s" x="127" y="15.3">3</text><text class="s" x="127" y="34.5">1</text><text class="m" x="153" y="24.3">46</text></g>
<g id="m47" transform="translate(210 1585)"><use href="#bx"/><text class="sd" x="-12" y="15.3">-4</text><text class="sd" x="-12" y="34.5">-5</text><text class="n b" x="4" y="15.3">Гнесь В</text><text class="n" x="4" y="34.5">Казакова Е</text><text class="r" x="112" y="18.5">R:155</text><text class="r" x="112" y="37">R:258</text><text class="s" x="127" y="15.3">3</text><text class="s" x="127" y="34.5">2</text><text class="m" x="153" y="24.3">47</text></g>
<g id="m48" transform="translate(210 1629)"><use href="#bx"/><text class="sd" x="-12" y="15.3">-6</text><text class="n" x="4" y="15.3">Тарасова О</text><text class="n b" x="4" y="34.5">Голубков А</text><text class="r" x="112" y="18.5">R:169</text><text class="r" x="112" y="37">R:108</text><text class="s" x="127" y="15.3">2</text><text class="s" x="127" y="34.5">3</text><text class="m" x="153" y="24.3">48</text></g>
<g id="m49" transform="translate(210 1673)"><use href="#bx"/><text class="sd" x="-12" y="34.5">-11</text><text class="n b" x="4" y="15.3">Казакова О</text><text class="n" x="4" y="34.5">Хлопяник М</text><text class="r" x="112" y="18.5">R:281</text><text class="r" x="112" y="37">R:206</text><text class="s" x="127" y="15.3">3</text><text class="s" x="127" y="34.5">0</text><text class="m" x="153" y="24.3">49</text></g>
<g id="m50" transform="translate(401 1563)"><use href="#bx"/><text class="n" x="4" y="15.3">Бормотов И</text><text class="n b" x="4" y="34.5">Гнесь В</text><text class="r" x="112" y="18.5">R:220</text><text class="r" x="112" y="37">R:155</text><text class="s" x="127" y="15.3">1</text><text class="s" x="127" y="34.5">3</text><text class="m" x="153" y="24.3">50</text></g>
<g id="m51" transform="translate(401 1651)"><use href="#bx"/><text class="n" x="4" y="15.3">Голубков А</text><text class="n b" x="4" y="34.5">Казакова О</text><text class="r" x="112" y="18.5">R:108</text><text class="r" x="112" y="37">R:281</text><text class="s" x="127" y="15.3">0</text><text class="s" x="127" y="34.5">3</text><text class="m" x="153" y="24.3">51</text></g>
<g id="m52" transform="translate(592 1607)"><use href="#bx"/><text class="n" x="4" y="15.3">Гнесь В</text><text class="n b" x="4" y="34.5">Казакова О</text><text class="r" x="112" y="18.5">R:155</text><text class="r" x="112" y="37">R:281</text><text class="s" x="127" y="15.3">1</text><text class="s" x="127" y="34.5">3</text><text class="m" x="153" y="24.3">52</text></g>
<g id="m53" transform="translate(783 1541)"><use href="#bx"/><text class="sd" x="-12" y="15.3">-44</text><text class="sd" x="-12" y="34.5">-45</text><text class="n b" x="4" y="15.3">Кожухов Д</text><text class="n" x="4" y="34.5">Худанов Е</text><text class="r" x="112" y="18.5">R:149</text><text class="r" x="112" y="37">R:116</text><text class="s" x="127" y="15.3">3</text><text class="s" x="127" y="34.5">0</text><text class="m" x="153" y="24.3">53</text></g>
<g id="m54" transform="translate(974 1541)"><use href="#bx"/><text class="sd" x="-12" y="15.3">-43</text><text class="n b" x="4" y="15.3">Шайхутдинов А</text><text class="n" x="4" y="34.5">Кожухов Д</text><rect x="92" y="3" width="22" height="16" fill="#dcdcdc"/><text class="r" x="112" y="18.5">R:121</text><text class="r" x="112" y="37">R:149</text><text class="s" x="127" y="15.3">3</text><text class="s" x="127" y="34.5">0</text><text class="m" x="153" y="24.3">54</text></g>
<g id="m55" transform="translate(783 1614)"><use href="#bx"/><text class="sd" x="-12" y="34.5">-53</text><text class="n b" x="4" y="34.5">Худанов Е</text><text class="r" x="112" y="37">R:116</text><text class="s" x="127" y="34.5">W</text><text class="m" x="153" y="24.3">55</text></g>

<text class="v" x="1141" y="1712">1.89.4</text>
</svg>
